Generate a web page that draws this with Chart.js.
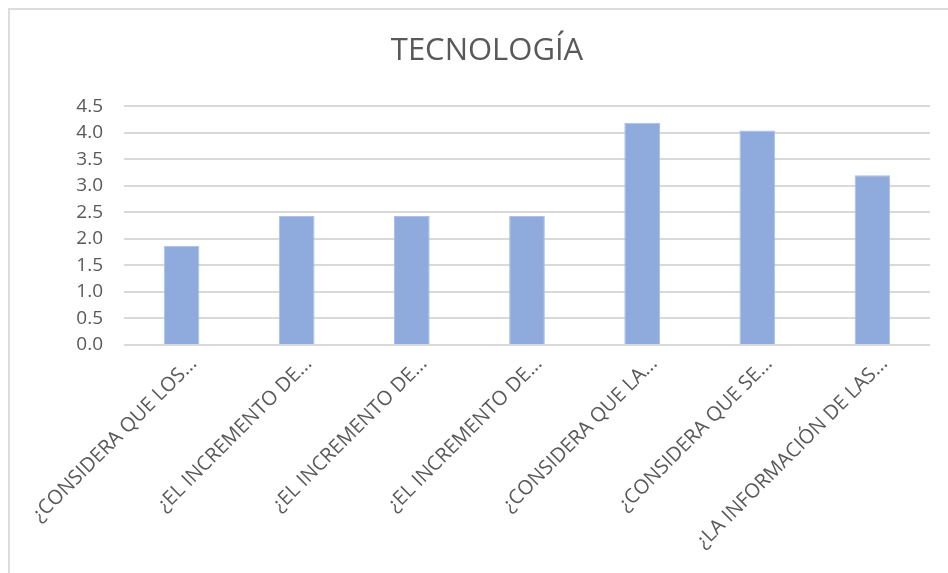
<!DOCTYPE html>
<html>
<head>
<meta charset="utf-8">
<script src="https://cdn.jsdelivr.net/npm/chart.js@4/dist/chart.umd.min.js"></script>
<style>
  html, body { margin: 0; padding: 0; background: #ffffff; overflow: hidden; }
  #wrap { position: relative; width: 948px; height: 573px; }
  #frame { position: absolute; left: 8px; top: 8px; width: 960px; height: 600px;
           border-top: 2px solid #dcdcdc; border-left: 2px solid #dcdcdc; box-sizing: border-box; }
  canvas { position: absolute; left: 0; top: 0; }
</style>
</head>
<body>
<div id="wrap">
  <div id="frame"></div>
  <canvas id="c" width="948" height="573"></canvas>
</div>
<script>
const titleText = 'TECNOLOGÍA';
const categories = [
  '¿CONSIDERA QUE LOS...',
  '¿EL INCREMENTO DE...',
  '¿EL INCREMENTO DE...',
  '¿EL INCREMENTO DE...',
  '¿CONSIDERA QUE LA...',
  '¿CONSIDERA QUE SE...',
  '¿LA INFORMACIÓN DE LAS...'
];
const values = [1.87, 2.43, 2.43, 2.43, 4.19, 4.04, 3.2];
const yMin = 0, yMax = 4.5, yStep = 0.5;

const textColor = '#595959';
const gridColor = '#d9d9d9';
const fontFamily = "'Open Sans', 'Noto Sans', sans-serif";

new Chart(document.getElementById('c'), {
  type: 'bar',
  data: {
    labels: categories,
    datasets: [{
      data: values,
      backgroundColor: '#8faadc',
      borderColor: '#a9c0e8',
      borderWidth: 1,
      categoryPercentage: 1,
      barPercentage: 0.31
    }]
  },
  options: {
    responsive: false,
    animation: false,
    devicePixelRatio: 1,
    layout: { padding: { left: 26, right: 0, top: 0, bottom: 0 } },
    plugins: {
      legend: { display: false },
      tooltip: { enabled: false },
      title: {
        display: true,
        text: titleText,
        color: textColor,
        font: { family: fontFamily, size: 31, weight: 'normal', lineHeight: 1.2 },
        padding: { top: 33, bottom: 36 }
      }
    },
    scales: {
      x: {
        grid: { display: false, drawTicks: false },
        border: { display: false },
        ticks: {
          color: textColor,
          font: { family: fontFamily, size: 20 },
          maxRotation: 45,
          minRotation: 45,
          autoSkip: false,
          padding: 7,
          labelOffset: 12
        },
        afterFit: (s) => { s.height = 228; }
      },
      y: {
        min: yMin,
        max: yMax,
        grid: { color: gridColor, lineWidth: 2, drawTicks: false },
        border: { display: false },
        ticks: {
          stepSize: yStep,
          autoSkip: false,
          color: textColor,
          font: { family: fontFamily, size: 19, lineHeight: 1.0 },
          padding: 21,
          callback: (v) => Number(v).toFixed(1)
        },
        afterFit: (s) => { s.width = 98; }
      },
      yRight: {
        position: 'right',
        display: true,
        min: yMin,
        max: yMax,
        grid: { display: false, drawTicks: false },
        border: { display: false },
        ticks: { display: false },
        afterFit: (s) => { s.width = 18; }
      }
    }
  }
});
</script>
</body>
</html>
